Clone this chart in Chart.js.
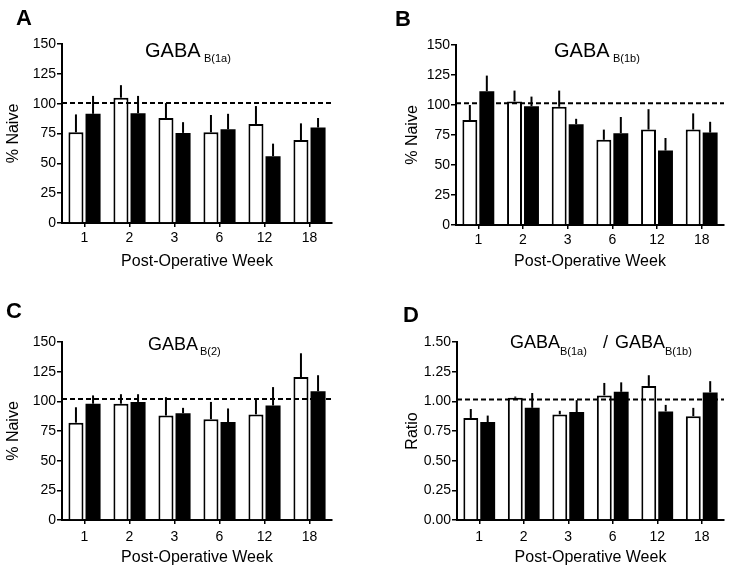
<!DOCTYPE html>
<html>
<head>
<meta charset="utf-8">
<script src="https://cdn.jsdelivr.net/npm/chart.js@4.4.0/dist/chart.umd.min.js"></script>
<style>
  html, body { margin: 0; padding: 0; background: #fff; }
  #wrap { position: relative; width: 738px; height: 571px; }
  #wrap canvas { position: absolute; }
</style>
</head>
<body>
<div id="wrap">
  <canvas id="panelA" width="369" height="285" style="left:0;top:0"></canvas>
  <canvas id="panelB" width="369" height="285" style="left:369px;top:0"></canvas>
  <canvas id="panelC" width="369" height="286" style="left:0;top:285px"></canvas>
  <canvas id="panelD" width="369" height="286" style="left:369px;top:285px"></canvas>
</div>
<script>
const weeks = ['1', '2', '3', '6', '12', '18'];

// panel A: GABA B(1a), % naive
const aOpenMean = [76, 105, 88, 76, 83, 69.5];
const aOpenSem = [15, 10.5, 12.5, 14.5, 15, 14];
const aFilledMean = [91.5, 92, 75.5, 78.5, 56, 80];
const aFilledSem = [15, 14.5, 9, 13, 10.5, 8];

// panel B: GABA B(1b), % naive
const bOpenMean = [87.5, 103, 98.5, 71, 79.5, 79.5];
const bOpenSem = [12.5, 9, 13.5, 8.5, 17, 13.5];
const bFilledMean = [111.5, 99, 84, 76.5, 62, 77];
const bFilledSem = [13, 8, 4.5, 13.5, 10.5, 9];

// panel C: GABA B(2), % naive
const cOpenMean = [82, 98, 88, 85, 89, 120.5];
const cOpenSem = [13, 8, 15.5, 14.5, 13, 20];
const cFilledMean = [98, 99.5, 90, 82.5, 96.5, 108.5];
const cFilledSem = [7, 6.5, 4.5, 11.5, 15.5, 13.5];

// panel D: ratio B(1a) / B(1b)
const dOpenMean = [0.86, 1.03, 0.89, 1.05, 1.13, 0.875];
const dOpenSem = [0.075, 0.01, 0.03, 0.105, 0.09, 0.07];
const dFilledMean = [0.825, 0.945, 0.91, 1.08, 0.915, 1.075];
const dFilledSem = [0.055, 0.125, 0.1, 0.08, 0.055, 0.095];

// dashed naive reference levels
const naiveLevel = { A: 100.5, B: 101.5, C: 102, D: 1.015 };

const FONT = '"Liberation Sans", Arial, Helvetica, sans-serif';
Chart.defaults.font.family = FONT;
Chart.defaults.color = '#000';

// upper-only error bars, no caps
const errorBars = {
  id: 'errorBars',
  afterDatasetsDraw(chart) {
    const ctx = chart.ctx;
    const y = chart.scales.y;
    ctx.save();
    ctx.strokeStyle = '#000';
    ctx.lineWidth = 2;
    chart.data.datasets.forEach((ds, i) => {
      chart.getDatasetMeta(i).data.forEach((bar, j) => {
        const top = y.getPixelForValue(ds.data[j] + ds.sem[j]);
        ctx.beginPath();
        ctx.moveTo(bar.x, bar.y);
        ctx.lineTo(bar.x, top);
        ctx.stroke();
      });
    });
    ctx.restore();
  }
};

const naiveLine = {
  id: 'naiveLine',
  afterDatasetsDraw(chart, args, opts) {
    const ctx = chart.ctx;
    const yPix = chart.scales.y.getPixelForValue(opts.value);
    const area = chart.chartArea;
    ctx.save();
    ctx.strokeStyle = '#000';
    ctx.lineWidth = 2;
    ctx.setLineDash([5, 3]);
    ctx.beginPath();
    ctx.moveTo(area.left, yPix);
    ctx.lineTo(area.right, yPix);
    ctx.stroke();
    ctx.restore();
  }
};

// panel letter and the subscripted gene title
const panelText = {
  id: 'panelText',
  afterDraw(chart, args, opts) {
    const ctx = chart.ctx;
    ctx.save();
    ctx.fillStyle = '#000';
    ctx.textBaseline = 'alphabetic';
    ctx.textAlign = 'left';
    ctx.font = 'bold 22px ' + FONT;
    ctx.fillText(opts.letter, opts.lx, opts.ly);
    opts.parts.forEach(p => {
      ctx.font = p.size + 'px ' + FONT;
      ctx.fillText(p.text, p.x, p.y);
    });
    ctx.restore();
  }
};

function makePanel(id, cfg) {
  new Chart(document.getElementById(id), {
    type: 'bar',
    data: {
      labels: weeks,
      datasets: [
        { data: cfg.openMean, sem: cfg.openSem, backgroundColor: '#fff', borderColor: '#000', borderWidth: 2,
          categoryPercentage: 0.76, barPercentage: 0.88 },
        { data: cfg.filledMean, sem: cfg.filledSem, backgroundColor: '#000', borderColor: '#000', borderWidth: 0,
          categoryPercentage: 0.76, barPercentage: 0.88 }
      ]
    },
    options: {
      responsive: false,
      animation: false,
      layout: { padding: { left: cfg.padLeft, top: cfg.top, right: cfg.right, bottom: 0 } },
      plugins: {
        legend: { display: false },
        tooltip: { enabled: false },
        naiveLine: { value: cfg.naive },
        panelText: cfg.text
      },
      scales: {
        x: {
          grid: { offset: false, drawOnChartArea: false, drawTicks: true, tickLength: 4, color: '#000', lineWidth: 1.5 },
          border: { color: '#000', width: 2 },
          ticks: { color: '#000', font: { size: 14 }, padding: cfg.xTickPad, maxRotation: 0 },
          title: { display: true, text: 'Post-Operative Week', color: '#000', font: { size: 16 },
                   padding: { top: 0, bottom: cfg.xTitlePad } },
          afterFit(s) { s.height = cfg.xHeight; }
        },
        y: {
          min: 0,
          max: cfg.max,
          grid: { drawOnChartArea: false, drawTicks: true, tickLength: 5, color: '#000', lineWidth: 1.5 },
          border: { color: '#000', width: 2 },
          ticks: {
            stepSize: cfg.step, color: '#000', font: { size: 14 }, padding: 1,
            callback: v => cfg.decimals ? v.toFixed(2) : v
          },
          title: { display: true, text: cfg.yTitle, color: '#000', font: { size: 16 },
                   padding: { top: cfg.yTitlePad, bottom: 0 } },
          afterFit(s) { s.width = cfg.yWidth; }
        }
      }
    },
    plugins: [errorBars, naiveLine, panelText]
  });
}

makePanel('panelA', {
  openMean: aOpenMean, openSem: aOpenSem, filledMean: aFilledMean, filledSem: aFilledSem,
  naive: naiveLevel.A, max: 150, step: 25, decimals: false, yTitle: '% Naive',
  padLeft: 0, yWidth: 62, top: 44, right: 37, xHeight: 62, xTickPad: 3, xTitlePad: 14, yTitlePad: 4,
  text: { letter: 'A', lx: 16, ly: 25, parts: [
    { text: 'GABA', x: 145, y: 57, size: 20 }, { text: 'B(1a)', x: 204, y: 62, size: 11 } ] }
});

makePanel('panelB', {
  openMean: bOpenMean, openSem: bOpenSem, filledMean: bFilledMean, filledSem: bFilledSem,
  naive: naiveLevel.B, max: 150, step: 25, decimals: false, yTitle: '% Naive',
  padLeft: 30, yWidth: 57, top: 45, right: 14, xHeight: 60, xTickPad: 3, xTitlePad: 14, yTitlePad: 4,
  text: { letter: 'B', lx: 26, ly: 26, parts: [
    { text: 'GABA', x: 185, y: 57, size: 20 }, { text: 'B(1b)', x: 244, y: 62, size: 11 } ] }
});

makePanel('panelC', {
  openMean: cOpenMean, openSem: cOpenSem, filledMean: cFilledMean, filledSem: cFilledSem,
  naive: naiveLevel.C, max: 150, step: 25, decimals: false, yTitle: '% Naive',
  padLeft: 0, yWidth: 62, top: 57, right: 37, xHeight: 51, xTickPad: 5, xTitlePad: 4, yTitlePad: 4,
  text: { letter: 'C', lx: 6, ly: 33, parts: [
    { text: 'GABA', x: 148, y: 65, size: 18 }, { text: 'B(2)', x: 200, y: 70, size: 11 } ] }
});

makePanel('panelD', {
  openMean: dOpenMean, openSem: dOpenSem, filledMean: dFilledMean, filledSem: dFilledSem,
  naive: naiveLevel.D, max: 1.5, step: 0.25, decimals: true, yTitle: 'Ratio',
  padLeft: 30, yWidth: 58, top: 57, right: 14, xHeight: 51, xTickPad: 5, xTitlePad: 4, yTitlePad: 4,
  text: { letter: 'D', lx: 34, ly: 37, parts: [
    { text: 'GABA', x: 141, y: 63, size: 18 }, { text: 'B(1a)', x: 191, y: 70, size: 11 },
    { text: '/', x: 234, y: 63, size: 18 },
    { text: 'GABA', x: 246, y: 63, size: 18 }, { text: 'B(1b)', x: 296, y: 70, size: 11 } ] }
});
</script>
</body>
</html>
